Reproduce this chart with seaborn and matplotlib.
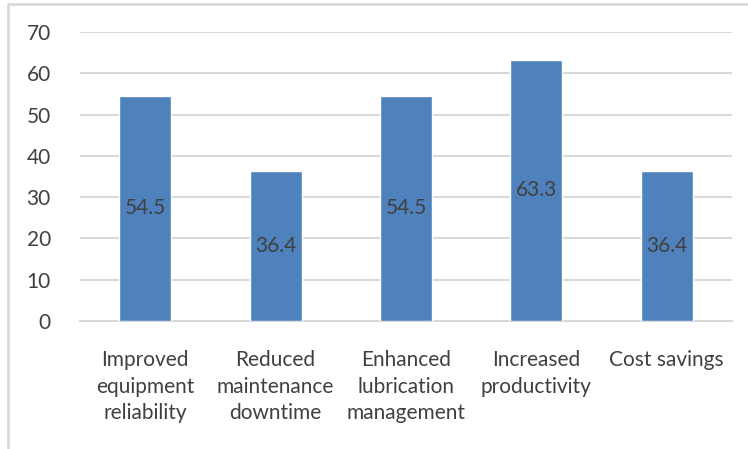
import matplotlib
matplotlib.use("Agg")
import matplotlib.pyplot as plt
from matplotlib.lines import Line2D
import seaborn as sns
import pandas as pd

categories = [
    "Improved\nequipment\nreliability",
    "Reduced\nmaintenance\ndowntime",
    "Enhanced\nlubrication\nmanagement",
    "Increased\nproductivity",
    "Cost savings",
]
values = [54.5, 36.4, 54.5, 63.3, 36.4]
y_ticks = [0, 10, 20, 30, 40, 50, 60, 70]

sns.set_theme(style="white")
plt.rcParams["font.family"] = ["Lato", "DejaVu Sans"]

BAR = "#4F81BD"
TEXT = "#404040"
GRID = "#D9D9D9"
FS = 15

df = pd.DataFrame({"category": categories, "value": values})

W, H = 748, 449
fig = plt.figure(figsize=(W / 100, H / 100), dpi=100)
ax = fig.add_axes([80 / W, 1 - 321 / H, (732 - 80) / W, (321 - 32) / H])

sns.barplot(data=df, x="category", y="value", color=BAR, width=0.4,
            saturation=1, ax=ax, zorder=3)

ax.set_ylim(0, 70)
ax.set_yticks(y_ticks)
ax.yaxis.grid(True, color=GRID, linewidth=1.5, zorder=0)
ax.set_axisbelow(True)
for s in ["top", "right", "left"]:
    ax.spines[s].set_visible(False)
ax.spines["bottom"].set_color(GRID)
ax.spines["bottom"].set_linewidth(1.5)
ax.set_xlabel("")
ax.set_ylabel("")
ax.tick_params(axis="y", length=0, pad=21, labelsize=FS, labelcolor=TEXT)
ax.tick_params(axis="x", length=0, pad=21, labelsize=FS, labelcolor=TEXT)
for lab in ax.get_xticklabels():
    lab.set_linespacing(1.4)
    lab.set_verticalalignment("top")

# value labels centred inside each bar
for i, v in enumerate(values):
    ax.text(i, v / 2, f"{v:.1f}", ha="center", va="center",
            fontsize=FS, color=TEXT, zorder=4)

# chart frame (left and top edges)
fig.add_artist(Line2D([8 / W, 8 / W], [0, 1 - 4 / H], color=GRID, linewidth=2))
fig.add_artist(Line2D([8 / W, 1], [1 - 4 / H, 1 - 4 / H], color=GRID, linewidth=2))

fig.savefig("out.png", dpi=100)
